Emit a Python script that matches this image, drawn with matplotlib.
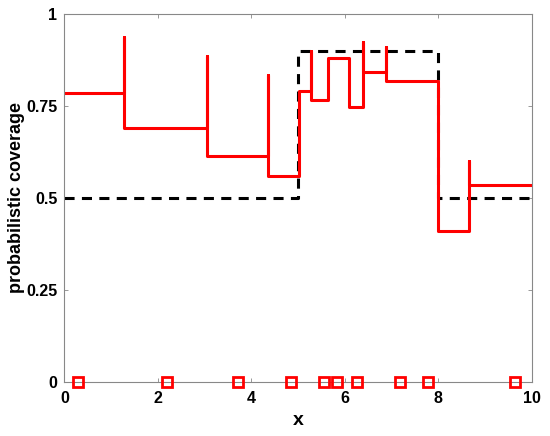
import numpy as np
import matplotlib
matplotlib.use("Agg")
from matplotlib import pyplot as plt

plt.rcParams['font.family'] = ['Liberation Sans', 'DejaVu Sans']
plt.rcParams['font.weight'] = 'bold'

### Data
# red step curve: breakpoints, level on each piece, value reached at each breakpoint
breaks = [1.285, 3.06, 4.35, 5.01, 5.28, 5.64, 6.08, 6.39, 6.89, 8.0, 8.66]
levels = [0.785, 0.689, 0.613, 0.559, 0.791, 0.766, 0.881, 0.747, 0.841, 0.817, 0.411, 0.534]
spikes = [0.937, 0.886, 0.834, 0.791, 0.900, 0.881, 0.881, 0.925, 0.909, 0.817, 0.600]

# black dashed target coverage
target_x = [0, 5, 5, 8, 8, 10]
target_y = [0.5, 0.5, 0.9, 0.9, 0.5, 0.5]

# sample locations (red squares)
samples = [0.30, 2.19, 3.71, 4.85, 5.55, 5.83, 6.25, 7.19, 7.77, 9.65]

x_ticks = [0, 2, 4, 6, 8, 10]
y_ticks = [0, 0.25, 0.5, 0.75, 1]
y_ticklabels = ['0', '0.25', '0.5', '0.75', '1']

### Build the red polyline
xs = [0.0]
ys = [levels[0]]
for i, b in enumerate(breaks):
    xs += [b, b, b]
    ys += [levels[i], spikes[i], levels[i + 1]]
xs.append(10.0)
ys.append(levels[-1])

### Plot
fig = plt.figure(figsize=(5.5, 4.36), dpi=100)
ax = fig.add_axes([0.117, 0.1245, 0.850, 0.8435])

ax.plot(target_x, target_y, 'k--', linewidth=2.2, dashes=(3.3, 2.4))
ax.plot(xs, ys, '-', color='#ff0000', linewidth=2.2)
ax.plot(samples, np.zeros(len(samples)), 's', color='#ff0000', markerfacecolor='none',
        markersize=7, markeredgewidth=2, clip_on=False, zorder=5)

ax.set_xlim(0, 10)
ax.set_ylim(0, 1)
ax.set_xticks(x_ticks)
ax.set_yticks(y_ticks)
ax.set_yticklabels(y_ticklabels)
ax.tick_params(direction='in', top=True, right=True, length=3, width=0.6,
               color='#888888', labelsize=11.5)
ax.tick_params(axis='x', pad=7)
ax.tick_params(axis='y', pad=5)
for s in ax.spines.values():
    s.set_color('#888888')
    s.set_linewidth(0.8)

ax.set_xlabel('x', fontsize=14, fontweight='bold', labelpad=4)
ax.set_ylabel('probabilistic coverage', fontsize=13, fontweight='bold', labelpad=1)

plt.savefig('out.png', dpi=100)
